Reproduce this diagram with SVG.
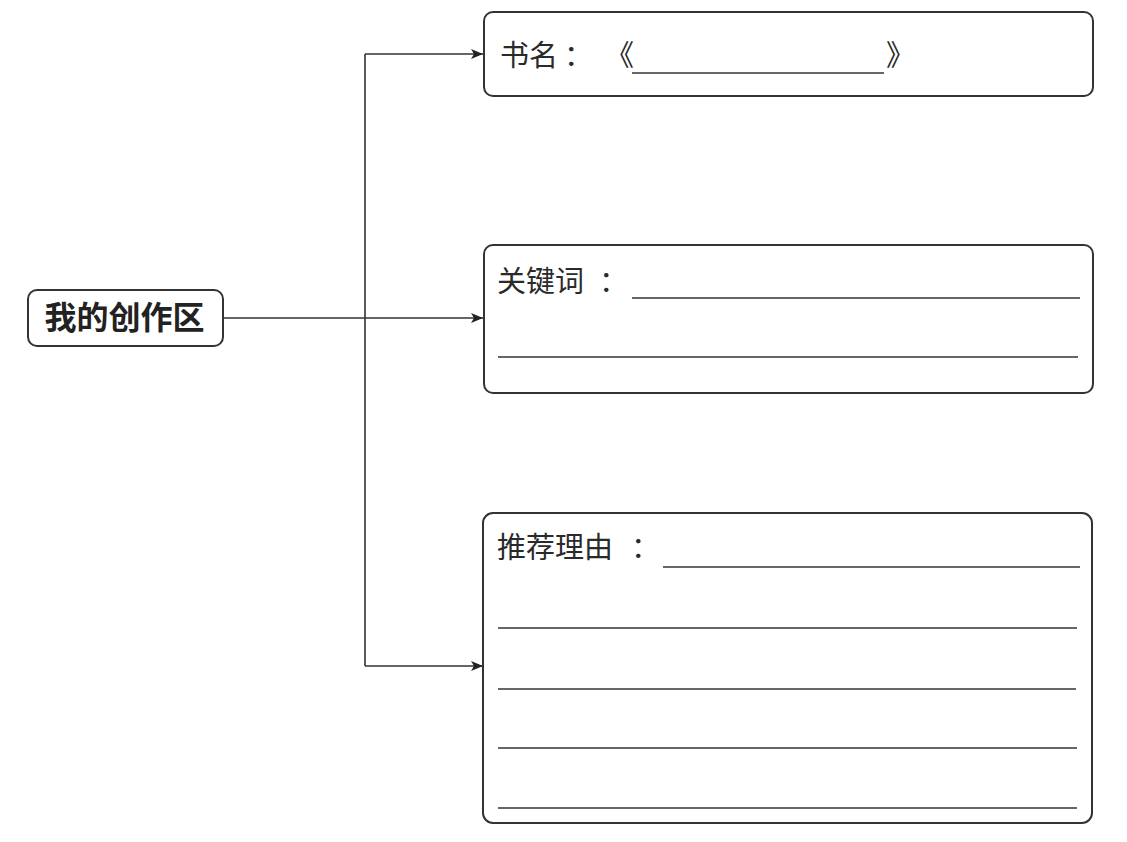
<svg xmlns="http://www.w3.org/2000/svg" width="1127" height="842" viewBox="0 0 1127 842">
<style>
.box{fill:#fff;stroke:#333;stroke-width:2}
.ln{stroke:#333;stroke-width:1.6;fill:none}
.t{font-family:"Noto Sans CJK SC","Noto Sans",sans-serif;font-size:29px;fill:#2a2a2a}
.tb{font-family:"Noto Sans CJK SC","Noto Sans",sans-serif;font-size:32px;font-weight:bold;fill:#222}
</style>
<defs>
<marker id="arr" markerWidth="12" markerHeight="10" refX="12" refY="5" orient="auto" markerUnits="userSpaceOnUse">
<path d="M0,0 L12,5 L0,10 L3,5 Z" fill="#222"/>
</marker>
</defs>
<rect width="1127" height="842" fill="#fff"/>
<g id="connectors">
<path class="ln" d="M223,318 L483,318" marker-end="url(#arr)"/>
<path class="ln" d="M365,54 L365,666"/>
<path class="ln" d="M365,54 L483,54" marker-end="url(#arr)"/>
<path class="ln" d="M365,666 L483,666" marker-end="url(#arr)"/>
</g>
<g id="root">
<rect class="box" x="28" y="290" width="195" height="56" rx="9"/>
<text class="tb" x="124.5" y="329" text-anchor="middle">我的创作区</text>
</g>
<g id="book">
<rect class="box" x="484" y="12" width="609" height="84" rx="9"/>
<text class="t" x="500" y="66">书名</text>
<text class="t" x="564" y="66">：</text>
<text class="t" x="634" y="66" text-anchor="end">《</text>
<line class="ln" x1="632" y1="73" x2="884" y2="73"/>
<text class="t" x="886" y="66">》</text>
</g>
<g id="keywords">
<rect class="box" x="484" y="245" width="609" height="148" rx="9"/>
<text class="t" x="497" y="292">关键词</text>
<text class="t" x="599" y="292">：</text>
<line class="ln" x1="632" y1="298" x2="1080" y2="298"/>
<line class="ln" x1="498" y1="357" x2="1078" y2="357"/>
</g>
<g id="reason">
<rect class="box" x="483" y="513" width="609" height="310" rx="10"/>
<text class="t" x="497" y="558">推荐理由</text>
<text class="t" x="631" y="558">：</text>
<line class="ln" x1="663" y1="567" x2="1080" y2="567"/>
<line class="ln" x1="498" y1="628" x2="1077" y2="628"/>
<line class="ln" x1="498" y1="689" x2="1076" y2="689"/>
<line class="ln" x1="498" y1="748" x2="1077" y2="748"/>
<line class="ln" x1="498" y1="808" x2="1077" y2="808"/>
</g>
</svg>
